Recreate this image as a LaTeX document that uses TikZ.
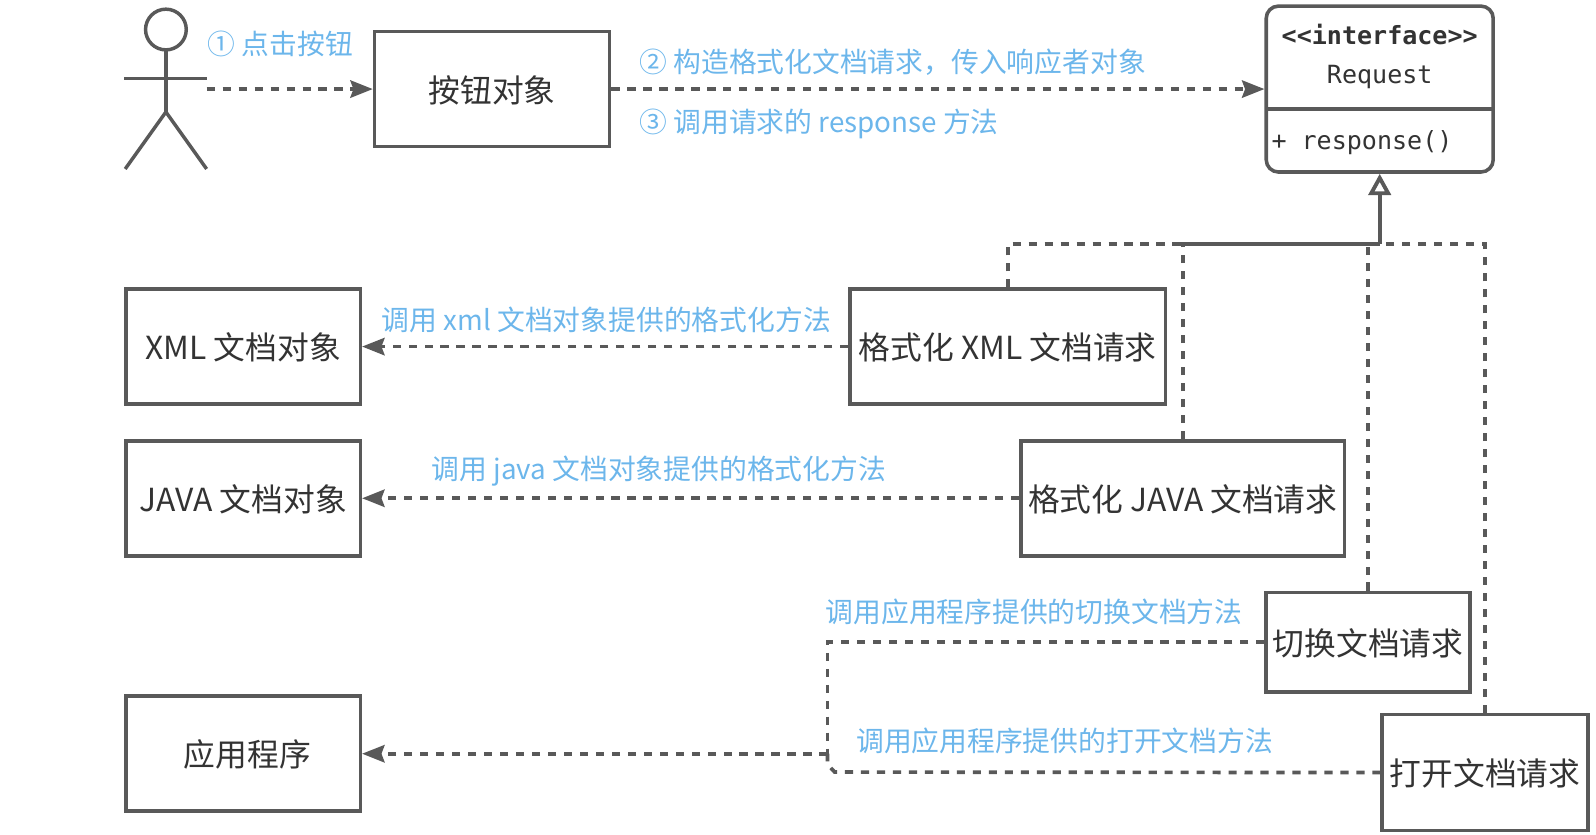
\documentclass[tikz,border=0pt]{standalone}
\usepackage{fontspec}
\setmainfont{Noto Sans CJK SC}
\newfontfamily\umlfont{DejaVu Sans Mono}
\usetikzlibrary{arrows.meta,positioning}
\definecolor{linegray}{HTML}{595959}
\definecolor{textgray}{HTML}{333333}
\definecolor{noteblue}{HTML}{6CB6EB}
\tikzset{
  box/.style={draw=linegray,line width=3.5pt,fill=white,text=textgray,font=\fontsize{31.2}{36}\selectfont,inner sep=0pt,minimum height=113pt,text height=30pt,text depth=4pt},
  note/.style={text=noteblue,font=\fontsize{27.3}{32}\selectfont,inner sep=0pt,anchor=west},
  uml/.style={text=textgray,font=\fontsize{24.6}{28}\selectfont\umlfont,inner sep=0pt},
  call/.style={draw=linegray,line width=3.6pt,dash pattern=on 8pt off 7.7pt,-{Stealth[length=22pt,width=17pt,inset=3pt]}},
  link/.style={draw=linegray,line width=3.6pt,dash pattern=on 8pt off 7.7pt},
  limb/.style={draw=linegray,line width=3.4pt}
}
\begin{document}
\begin{tikzpicture}[x=1pt,y=-1pt]
  \useasboundingbox (0,0) rectangle (1568,820.3);

  % stick figure
  \draw[limb] (163,29) circle (20);
  \draw[limb] (163,49) -- (163,110);
  \draw[limb] (122,77) -- (203,77);
  \draw[limb] (123,166) -- (163,110) -- (203,166);
  \coordinate (actor) at (203,87.5);

  % boxes
  \node[box,minimum width=231pt] (button) at (483.5,87.5) {按钮对象};
  \node[box,draw,rounded corners=12pt,minimum width=223pt,minimum height=163pt] (request) at (1355.5,87.5) {};
  \node[box,minimum width=230pt] (xmldoc) at (239,340.5) {XML 文档对象};
  \node[box,minimum width=310pt] (xmlreq) at (990,340.5) {格式化 XML 文档请求};
  \node[box,minimum width=230pt] (javadoc) at (239,489.5) {JAVA 文档对象};
  \node[box,minimum width=318pt] (javareq) at (1162,489.5) {格式化 JAVA 文档请求};
  \node[box,minimum width=200pt,minimum height=98pt] (switchreq) at (1344,631) {切换文档请求};
  \node[box,minimum width=202pt,minimum height=114pt] (openreq) at (1459,759) {打开文档请求};
  \node[box,minimum width=230pt] (app) at (239,740.5) {\hspace*{8pt}应用程序};

  % class box
  \coordinate (divleft) at (1244,107);
  \coordinate (divright) at (1467,107);
  \draw[draw=linegray,line width=3.5pt] (divleft) -- (divright);
  \node[uml,font=\fontsize{24.6}{28}\selectfont\umlfont\bfseries] (stereo) at (1355.5,34) {<{}<interface>{}>};
  \node[uml] (reqname) at (1355.5,76) {Request};
  \node[uml,anchor=west] (method) at (1249,140) {+ response()};

  % notes
  \node[note] (n1) at (204,43.5) {① 点击按钮};
  \node[note] (n2) at (628,61) {② 构造格式化文档请求，传入响应者对象};
  \node[note] (n3) at (628,121.5) {③ 调用请求的 response 方法};
  \node[note] (n4) at (375,314) {调用 xml 文档对象提供的格式化方法};
  \node[note] (n5) at (424,462.5) {调用 java 文档对象提供的格式化方法};
  \node[note] (n6) at (811,601) {调用应用程序提供的切换文档方法};
  \node[note] (n7) at (841,728) {调用应用程序提供的打开文档方法};

  % calls
  \draw[call] (actor) -- (button.west);
  \draw[call] (button.east) -- (request.west);
  \draw[call] (xmlreq.west) -- (xmldoc.east);
  \draw[call] (javareq.west) -- (javadoc.east);

  % inheritance
  \coordinate (bus) at (1355.5,240);
  \draw[link] (xmlreq.north) |- (bus);
  \draw[link] (javareq.north) |- (bus);
  \draw[link] (switchreq.north) |- (bus);
  \draw[link] (openreq.north) |- (bus);
  \draw[draw=linegray,line width=3.8pt,-{Triangle[open,length=21pt,width=22pt,line width=3.8pt]}] (bus) -- (request.south);

  % calls to the application
  \coordinate (merge) at (813,740.5);
  \draw[link] (switchreq.west) -| (merge);
  \draw[link] (openreq.west) -- (820,758.5) -- (813,751) -- (merge);
  \draw[call] (merge) -- (app.east);
\end{tikzpicture}
\end{document}
